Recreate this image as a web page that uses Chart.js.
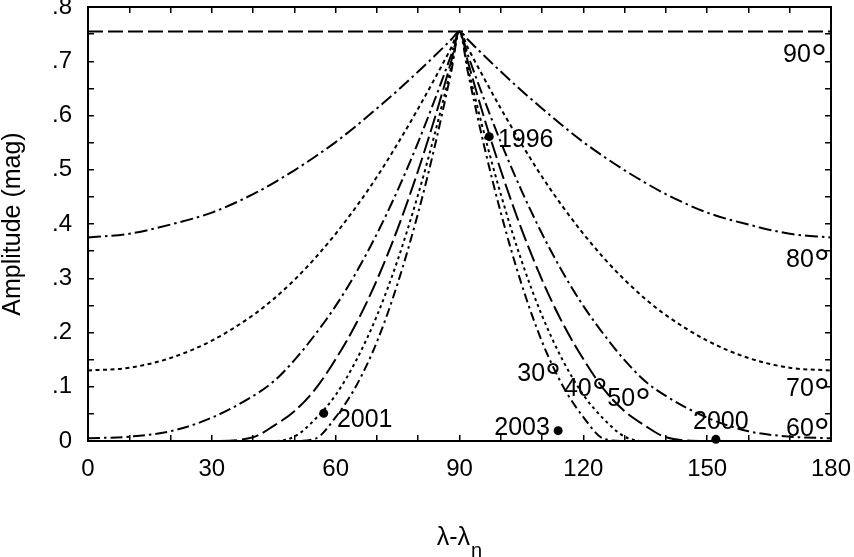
<!DOCTYPE html>
<html>
<head>
<meta charset="utf-8">
<script src="https://cdn.jsdelivr.net/npm/chart.js@4.4.1/dist/chart.umd.min.js"></script>
<style>
  html, body { margin: 0; padding: 0; background: #fff; }
  #amp-chart { display: block; }
</style>
</head>
<body>
<canvas id="amp-chart" width="854" height="557"></canvas>
<script>
// Lightcurve amplitude vs aspect longitude for pole latitudes 30..90 deg

const lambdaDeg = [0, 10, 20, 30, 40, 45, 50, 55, 60, 65, 70, 75, 80, 84, 88, 90,
                   92, 96, 100, 105, 110, 115, 120, 125, 130, 135, 140, 150, 160, 170, 180];

const amp80 = [0.375, 0.382, 0.399, 0.421, 0.455, 0.476, 0.499, 0.524, 0.551, 0.581, 0.613, 0.646, 0.681, 0.710, 0.740, 0.755,
               0.740, 0.710, 0.681, 0.646, 0.613, 0.581, 0.551, 0.524, 0.499, 0.476, 0.455, 0.421, 0.399, 0.382, 0.375];
const amp70 = [0.130, 0.135, 0.153, 0.185, 0.232, 0.262, 0.297, 0.337, 0.382, 0.432, 0.487, 0.548, 0.613, 0.668, 0.725, 0.755,
               0.725, 0.668, 0.613, 0.548, 0.487, 0.432, 0.382, 0.337, 0.297, 0.262, 0.232, 0.185, 0.153, 0.135, 0.130];
const amp60 = [0.005, 0.008, 0.018, 0.043, 0.083, 0.110, 0.149, 0.196, 0.249, 0.311, 0.382, 0.462, 0.551, 0.629, 0.712, 0.755,
               0.712, 0.629, 0.551, 0.462, 0.382, 0.311, 0.249, 0.196, 0.149, 0.110, 0.083, 0.043, 0.018, 0.008, 0.005];
const amp50 = [0, 0, 0, 0, 0.007, 0.028, 0.055, 0.095, 0.151, 0.217, 0.297, 0.391, 0.499, 0.595, 0.700, 0.755,
               0.700, 0.595, 0.499, 0.391, 0.297, 0.217, 0.151, 0.095, 0.055, 0.028, 0.007, 0, 0, 0, 0];
const amp40 = [0, 0, 0, 0, 0, 0, 0.008, 0.040, 0.085, 0.149, 0.231, 0.333, 0.455, 0.566, 0.689, 0.755,
               0.689, 0.566, 0.455, 0.333, 0.231, 0.149, 0.085, 0.040, 0.008, 0, 0, 0, 0, 0, 0];
const amp30 = [0, 0, 0, 0, 0, 0, 0, 0.004, 0.044, 0.102, 0.183, 0.290, 0.421, 0.543, 0.681, 0.755,
               0.681, 0.543, 0.421, 0.290, 0.183, 0.102, 0.044, 0.004, 0, 0, 0, 0, 0, 0, 0];

const lambda90 = [0, 180];
const amp90 = [0.755, 0.755];

// observed amplitudes
const obsYears = ['1996', '2001', '2003', '2000'];
const obsLambda = [97.2, 57.1, 113.9, 152.1];
const obsAmp = [0.561, 0.051, 0.019, 0.003];

const xTickValues = [0, 30, 60, 90, 120, 150, 180];
const xTickLabels = ['0', '30', '60', '90', '120', '150', '180'];
const yTickValues = [0, 0.1, 0.2, 0.3, 0.4, 0.5, 0.6, 0.7, 0.8];
const yTickLabels = ['0', '.1', '.2', '.3', '.4', '.5', '.6', '.7', '.8'];

// text placement (data coords) and styles
const curveLabels = [
  { text: '90', at: [173.7, 0.715] },
  { text: '80', at: [174.4, 0.337] },
  { text: '70', at: [174.4, 0.0995] },
  { text: '60', at: [174.4, 0.026] },
  { text: '50', at: [131.1, 0.081] },
  { text: '40', at: [120.6, 0.0995] },
  { text: '30', at: [109.3, 0.127] },
];
const obsLabelPlace = [
  { at: [99.3, 0.555], align: 'left' },
  { at: [60.3, 0.0387], align: 'left' },
  { at: [111.9, 0.024], align: 'right' },
  { at: [153.3, 0.035], align: 'center' },
];

const FONT = "'Liberation Sans', Arial, Helvetica, sans-serif";
const INK = '#000';

function pts(xs, ys) {
  return xs.map((x, i) => ({ x: x, y: ys[i] }));
}

function curve(xs, ys, dash) {
  return {
    data: pts(xs, ys),
    showLine: true,
    borderColor: INK,
    borderWidth: 2,
    borderDash: dash,
    pointRadius: 0,
    cubicInterpolationMode: 'monotone',
    fill: false,
  };
}

function isMultiple(v, step) {
  const r = v / step;
  return Math.abs(r - Math.round(r)) < 1e-6;
}

// fixed box sizes so the plot area lands where the original has it
function fixBox(size) {
  return s => {
    if (s.isHorizontal()) s.height = size; else s.width = size;
    s.paddingLeft = 0; s.paddingRight = 0; s.paddingTop = 0; s.paddingBottom = 0;
  };
}

const textPlugin = {
  id: 'textPlugin',
  afterDatasetsDraw(chart) {
    const { ctx, chartArea } = chart;
    const sx = chart.scales.x, sy = chart.scales.y;
    ctx.save();
    ctx.fillStyle = INK;

    // curve latitude labels
    curveLabels.forEach(l => {
      const cx = sx.getPixelForValue(l.at[0]);
      const cy = sy.getPixelForValue(l.at[1]);
      ctx.font = '25px ' + FONT;
      const w1 = ctx.measureText(l.text).width;
      ctx.font = '40px ' + FONT;
      const w2 = ctx.measureText('°').width;
      const left = cx - (w1 + w2) / 2;
      const base = cy + 9;
      ctx.textAlign = 'left';
      ctx.textBaseline = 'alphabetic';
      ctx.font = '25px ' + FONT;
      ctx.fillText(l.text, left, base);
      ctx.font = '40px ' + FONT;
      ctx.fillText('°', left + w1, base + 10);
    });

    // observation year labels
    ctx.font = '25px ' + FONT;
    ctx.textBaseline = 'middle';
    obsYears.forEach((t, i) => {
      const p = obsLabelPlace[i];
      ctx.textAlign = p.align;
      ctx.fillText(t, sx.getPixelForValue(p.at[0]), sy.getPixelForValue(p.at[1]));
    });

    // x axis title with subscript
    const midX = (chartArea.left + chartArea.right) / 2;
    ctx.textBaseline = 'alphabetic';
    ctx.textAlign = 'left';
    ctx.font = '25px ' + FONT;
    const main = 'λ-λ';
    const wm = ctx.measureText(main).width;
    ctx.font = '20px ' + FONT;
    const ws = ctx.measureText('n').width;
    const x0 = midX - (wm + ws + 1) / 2;
    ctx.font = '25px ' + FONT;
    ctx.fillText(main, x0, 545);
    ctx.font = '20px ' + FONT;
    ctx.fillText('n', x0 + wm + 1, 557);

    // y axis title
    ctx.translate(20, (chartArea.top + chartArea.bottom) / 2);
    ctx.rotate(-Math.PI / 2);
    ctx.textAlign = 'center';
    ctx.font = '25px ' + FONT;
    ctx.fillText('Amplitude (mag)', 0, 0);
    ctx.restore();
  }
};

const gridOpts = { drawOnChartArea: false, tickLength: -6, color: INK, lineWidth: 1.5 };
const borderOpts = { display: true, color: INK, width: 2 };

const ctx = document.getElementById('amp-chart').getContext('2d');
const chart = new Chart(ctx, {
  type: 'scatter',
  data: {
    datasets: [
      curve(lambda90, amp90, [15, 5]),
      curve(lambdaDeg, amp80, [13, 4, 2.5, 4]),
      curve(lambdaDeg, amp70, [4, 3.5]),
      curve(lambdaDeg, amp60, [12, 4, 2.5, 4]),
      curve(lambdaDeg, amp50, [17, 5]),
      curve(lambdaDeg, amp40, [3, 3.5]),
      curve(lambdaDeg, amp30, [9, 4, 2.5, 4]),
      {
        data: pts(obsLambda, obsAmp),
        showLine: false,
        pointRadius: 4.5,
        pointBackgroundColor: INK,
        pointBorderWidth: 0,
        clip: false,
      },
    ],
  },
  options: {
    responsive: false,
    animation: false,
    layout: { padding: 0 },
    plugins: { legend: { display: false }, tooltip: { enabled: false } },
    scales: {
      x: {
        type: 'linear', position: 'bottom', min: 0, max: 180,
        ticks: {
          stepSize: 10, autoSkip: false, maxRotation: 0, padding: 20, color: INK,
          font: { family: FONT, size: 24 },
          callback: v => {
            const k = xTickValues.findIndex(t => Math.abs(t - v) < 1e-6);
            return k >= 0 ? xTickLabels[k] : '';
          },
        },
        grid: gridOpts, border: borderOpts,
        afterFit: fixBox(116),
      },
      x2: {
        type: 'linear', position: 'top', min: 0, max: 180,
        ticks: { stepSize: 10, autoSkip: false, maxRotation: 0, padding: 0, callback: () => '' },
        grid: gridOpts, border: borderOpts,
        afterFit: fixBox(7),
      },
      y: {
        type: 'linear', position: 'left', min: 0, max: 0.8,
        ticks: {
          stepSize: 0.05, autoSkip: false, padding: 22, color: INK,
          font: { family: FONT, size: 24 },
          callback: v => {
            if (!isMultiple(v, 0.1)) return '';
            const k = yTickValues.findIndex(t => Math.abs(t - v) < 1e-6);
            return k >= 0 ? yTickLabels[k] : '';
          },
        },
        grid: gridOpts, border: borderOpts,
        afterFit: fixBox(88),
      },
      y2: {
        type: 'linear', position: 'right', min: 0, max: 0.8,
        ticks: { stepSize: 0.05, autoSkip: false, padding: 0, callback: () => '' },
        grid: gridOpts, border: borderOpts,
        afterFit: fixBox(23),
      },
    },
  },
  plugins: [textPlugin],
});
</script>
</body>
</html>
